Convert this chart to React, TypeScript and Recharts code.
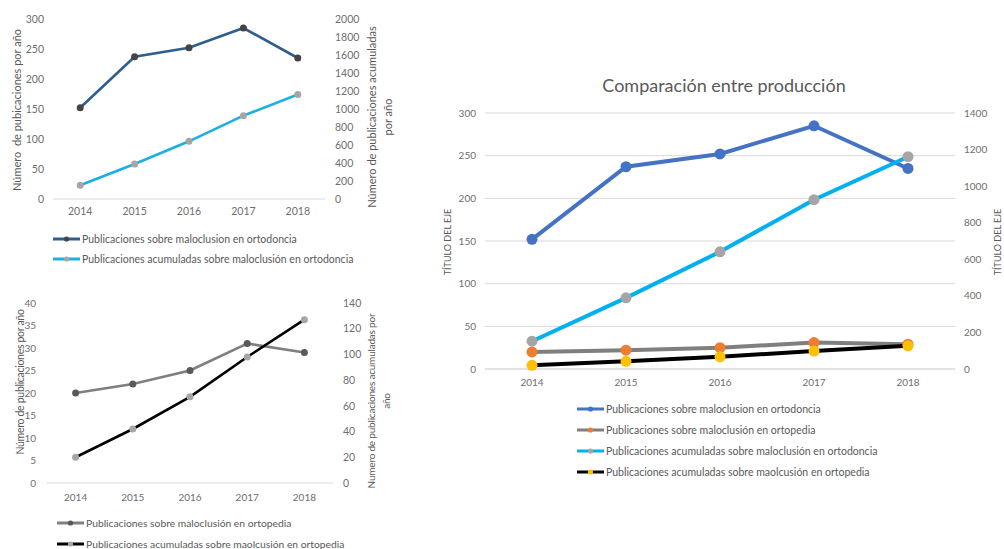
import React from 'react';
import { LineChart, Line, XAxis, YAxis, CartesianGrid, Legend } from 'recharts';

const FONT = 'Lato, "Noto Sans", sans-serif';

const years = ['2014', '2015', '2016', '2017', '2018'];
const ortodonciaAnual = [152, 237, 252, 285, 235];
const ortodonciaAcumulada = [152, 389, 641, 926, 1161];
const ortopediaAnual = [20, 22, 25, 31, 29];
const ortopediaAcumulada = [20, 42, 67, 98, 127];

const ticksOrtoAnual = [0, 50, 100, 150, 200, 250, 300];
const ticksOrtoAcum = [0, 200, 400, 600, 800, 1000, 1200, 1400, 1600, 1800, 2000];
const ticksPediaAnual = [0, 5, 10, 15, 20, 25, 30, 35, 40];
const ticksPediaAcum = [0, 20, 40, 60, 80, 100, 120, 140];
const ticksCompAcum = [0, 200, 400, 600, 800, 1000, 1200, 1400];

const nameOrtoAnual = 'Publicaciones sobre maloclusion en ortodoncia';
const nameOrtoAcum = 'Publicaciones acumuladas sobre maloclusión en ortodoncia';
const namePediaAnual = 'Publicaciones sobre maloclusión en ortopedia';
const namePediaAcum = 'Publicaciones acumuladas sobre maolcusión en ortopedia';

const data = years.map((year, i) => ({
  year,
  ortoAnual: ortodonciaAnual[i],
  ortoAcum: ortodonciaAcumulada[i],
  pediaAnual: ortopediaAnual[i],
  pediaAcum: ortopediaAcumulada[i],
}));

const TEXT = '#595959';
const TICK = '#6e6e6e';
const AXIS = '#d9d9d9';

type LegendItem = { name: string; line: string; marker: string };

const LegendBox = ({ items, rowHeight, fontSize }: { items: LegendItem[]; rowHeight: number; fontSize: number }) => (
  <div style={{ fontFamily: FONT, fontSize, color: TEXT }}>
    {items.map((it) => (
      <div key={it.name} style={{ height: rowHeight, display: 'flex', alignItems: 'center', whiteSpace: 'nowrap' }}>
        <svg width={27} height={8} style={{ marginRight: 2, flex: 'none' }}>
          <line x1={0} y1={4} x2={27} y2={4} stroke={it.line} strokeWidth={3} />
          <circle cx={13.5} cy={4} r={2.6} fill={it.marker} />
        </svg>
        <span>{it.name}</span>
      </div>
    ))}
  </div>
);

const RotText = ({ cx, cy, lines, size, lineHeight, spacing }: { cx: number; cy: number; lines: string[]; size: number; lineHeight?: number; spacing?: number }) => (
  <div
    style={{
      position: 'absolute',
      left: cx,
      top: cy,
      transform: 'translate(-50%, -50%) rotate(-90deg)',
      fontFamily: FONT,
      fontSize: size,
      color: TEXT,
      whiteSpace: 'pre',
      textAlign: 'center',
      lineHeight: `${lineHeight ?? size * 1.2}px`,
      letterSpacing: spacing ?? 0,
    }}
  >
    {lines.join('\n')}
  </div>
);

const legend1: LegendItem[] = [
  { name: nameOrtoAnual, line: '#2e5e8e', marker: '#444444' },
  { name: nameOrtoAcum, line: '#1cb0e2', marker: '#a6a6a6' },
];
const legend2: LegendItem[] = [
  { name: namePediaAnual, line: '#7f7f7f', marker: '#595959' },
  { name: namePediaAcum, line: '#000000', marker: '#a6a6a6' },
];
const legend3: LegendItem[] = [
  { name: nameOrtoAnual, line: '#4472c4', marker: '#4472c4' },
  { name: namePediaAnual, line: '#7f7f7f', marker: '#ed7d31' },
  { name: nameOrtoAcum, line: '#00b0f0', marker: '#a5a5a5' },
  { name: namePediaAcum, line: '#000000', marker: '#ffc000' },
];

const tickStyle = (size: number) => ({ fill: TICK, fontSize: size, fontFamily: FONT });

export default function App() {
  return (
    <div style={{ position: 'absolute', left: 0, top: 0, width: 1004, height: 549, background: '#fff', overflow: 'hidden' }}>
      {/* Chart 1 */}
      <div style={{ position: 'absolute', left: 0, top: 0 }}>
        <LineChart width={400} height={280} data={data} margin={{ top: 19, right: 0, bottom: 51, left: 0 }}>
          <XAxis dataKey="year" scale="band" height={30} interval={0} axisLine={{ stroke: AXIS }} tickLine={false} tickSize={0} tickMargin={9} tick={tickStyle(10.5)} />
          <YAxis yAxisId="left" orientation="left" width={53} domain={[0, 300]} ticks={ticksOrtoAnual} interval={0} axisLine={false} tickLine={false} tickSize={0} tickMargin={9} tick={tickStyle(10.5)} />
          <YAxis yAxisId="right" orientation="right" width={75} domain={[0, 2000]} ticks={ticksOrtoAcum} interval={0} axisLine={false} tickLine={false} tickSize={0} tickMargin={10} tick={tickStyle(10.5)} />
          <Line yAxisId="left" type="linear" dataKey="ortoAnual" name={nameOrtoAnual} stroke="#2e5e8e" strokeWidth={2.6} dot={{ r: 3.5, fill: '#444444', stroke: '#444444', strokeWidth: 0 }} activeDot={false} isAnimationActive={false} />
          <Line yAxisId="right" type="linear" dataKey="ortoAcum" name={nameOrtoAcum} stroke="#1cb0e2" strokeWidth={2.6} dot={{ r: 3.5, fill: '#a6a6a6', stroke: '#a6a6a6', strokeWidth: 0 }} activeDot={false} isAnimationActive={false} />
          <Legend layout="vertical" align="center" verticalAlign="middle" wrapperStyle={{ left: 53, top: 229.5 }} content={() => <LegendBox items={legend1} rowHeight={19.5} fontSize={10.5} />} />
        </LineChart>
        <RotText cx={16.7} cy={110} lines={['Número  de pubicaciones por año']} size={11} />
        <RotText cx={380} cy={117} lines={['Número de publicaciones acumuladas', 'por año']} size={11} lineHeight={16} />
      </div>

      {/* Chart 2 */}
      <div style={{ position: 'absolute', left: 0, top: 280 }}>
        <LineChart width={400} height={269} data={data} margin={{ top: 23, right: 0, bottom: 36, left: 0 }}>
          <XAxis dataKey="year" scale="band" height={30} interval={0} axisLine={{ stroke: AXIS }} tickLine={false} tickSize={0} tickMargin={11} tick={tickStyle(10)} />
          <YAxis yAxisId="left" orientation="left" width={47} domain={[0, 40]} ticks={ticksPediaAnual} interval={0} axisLine={false} tickLine={false} tickSize={0} tickMargin={11} tick={tickStyle(10)} />
          <YAxis yAxisId="right" orientation="right" width={67} domain={[0, 140]} ticks={ticksPediaAcum} interval={0} axisLine={false} tickLine={false} tickSize={0} tickMargin={10} tick={tickStyle(10.5)} />
          <Line yAxisId="left" type="linear" dataKey="pediaAnual" name={namePediaAnual} stroke="#7f7f7f" strokeWidth={2.6} dot={{ r: 3.5, fill: '#595959', stroke: '#595959', strokeWidth: 0 }} activeDot={false} isAnimationActive={false} />
          <Line yAxisId="right" type="linear" dataKey="pediaAcum" name={namePediaAcum} stroke="#000000" strokeWidth={2.6} dot={{ r: 3.5, fill: '#a6a6a6', stroke: '#a6a6a6', strokeWidth: 0 }} activeDot={false} isAnimationActive={false} />
          <Legend layout="vertical" align="center" verticalAlign="middle" wrapperStyle={{ left: 57, top: 232.5 }} content={() => <LegendBox items={legend2} rowHeight={21} fontSize={10.3} />} />
        </LineChart>
        <RotText cx={19.5} cy={102} lines={['Número de publicaciones por año']} size={10.5} spacing={-0.3} />
        <RotText cx={379} cy={121} lines={['Numero de publicaciones acumuladas por', 'año']} size={10} lineHeight={15} spacing={-0.2} />
      </div>

      {/* Chart 3 */}
      <div style={{ position: 'absolute', left: 420, top: 60 }}>
        <LineChart width={584} height={440} data={data} margin={{ top: 53, right: 0, bottom: 101, left: 0 }}>
          <CartesianGrid yAxisId="left" vertical={false} stroke={AXIS} />
          <XAxis dataKey="year" scale="band" height={30} interval={0} axisLine={{ stroke: AXIS }} tickLine={false} tickSize={0} tickMargin={10} tick={tickStyle(10)} />
          <YAxis yAxisId="left" orientation="left" width={65} domain={[0, 300]} ticks={ticksOrtoAnual} interval={0} axisLine={false} tickLine={false} tickSize={0} tickMargin={9} tick={tickStyle(10)} />
          <YAxis yAxisId="right" orientation="right" width={49} domain={[0, 1400]} ticks={ticksCompAcum} interval={0} axisLine={false} tickLine={false} tickSize={0} tickMargin={9} tick={tickStyle(10)} />
          <Line yAxisId="left" type="linear" dataKey="ortoAnual" name={nameOrtoAnual} stroke="#4472c4" strokeWidth={4} dot={{ r: 5.5, fill: '#4472c4', stroke: '#4472c4', strokeWidth: 0 }} activeDot={false} isAnimationActive={false} />
          <Line yAxisId="left" type="linear" dataKey="pediaAnual" name={namePediaAnual} stroke="#7f7f7f" strokeWidth={4} dot={{ r: 5.5, fill: '#ed7d31', stroke: '#ed7d31', strokeWidth: 0 }} activeDot={false} isAnimationActive={false} />
          <Line yAxisId="right" type="linear" dataKey="ortoAcum" name={nameOrtoAcum} stroke="#00b0f0" strokeWidth={4} dot={{ r: 5.5, fill: '#a5a5a5', stroke: '#a5a5a5', strokeWidth: 0 }} activeDot={false} isAnimationActive={false} />
          <Line yAxisId="right" type="linear" dataKey="pediaAcum" name={namePediaAcum} stroke="#000000" strokeWidth={4} dot={{ r: 5.5, fill: '#ffc000', stroke: '#ffc000', strokeWidth: 0 }} activeDot={false} isAnimationActive={false} />
          <Legend layout="vertical" align="center" verticalAlign="middle" wrapperStyle={{ left: 157, top: 338 }} content={() => <LegendBox items={legend3} rowHeight={21} fontSize={10.5} />} />
        </LineChart>
      </div>
      <div style={{ position: 'absolute', left: 724, top: 85, transform: 'translate(-50%, -50%)', fontFamily: FONT, fontSize: 18, color: TEXT, whiteSpace: 'nowrap' }}>
        Comparación entre producción
      </div>
      <RotText cx={448} cy={242} lines={['TÍTULO DEL EJE']} size={9} />
      <RotText cx={998} cy={242} lines={['TÍTULO DEL EJE']} size={9} />
    </div>
  );
}
